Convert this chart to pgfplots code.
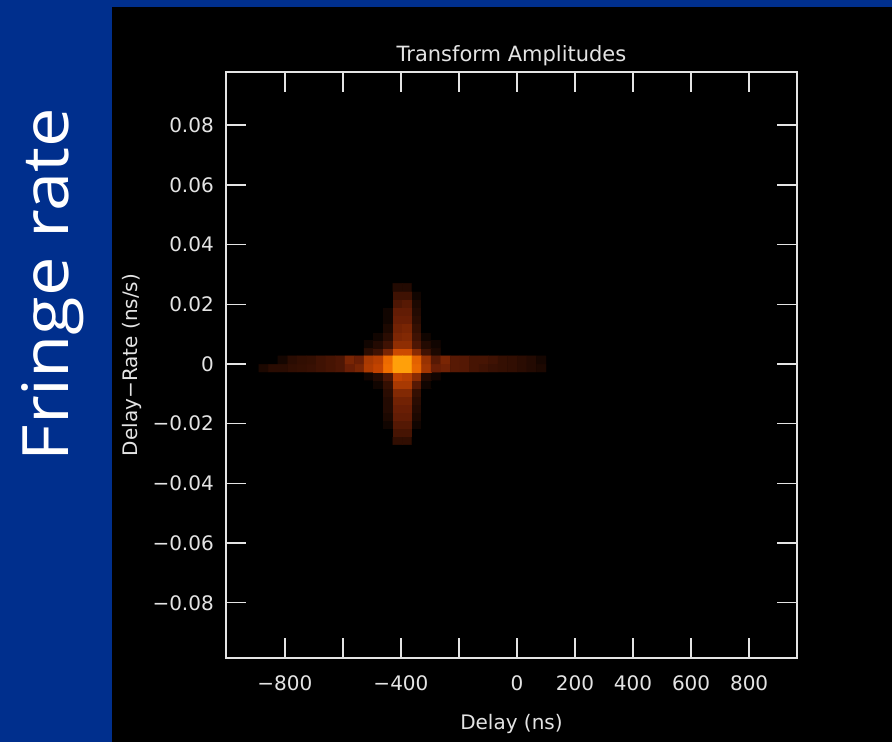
\documentclass[border=0pt]{standalone}
\usepackage{fontspec}
\setmainfont{DejaVu Sans}
\newfontfamily\slidefont{Open Sans}
\usepackage{graphicx}
\usepackage{pgfplots}
\pgfplotsset{compat=1.18}
\usepackage{pgfplotstable}
\definecolor{slideblue}{RGB}{0,47,141}
\definecolor{axgray}{RGB}{228,228,228}

% vertical band (delay columns around -400 ns), all rates
\pgfplotstableread{
x y c
-510.5 -0.02565 0
-477.5 -0.02565 0
-444.5 -0.02565 0
-411.5 -0.02565 0.14
-378.5 -0.02565 0.14
-345.5 -0.02565 0
-312.5 -0.02565 0
-279.5 -0.02565 0
-510.5 -0.02295 0
-477.5 -0.02295 0
-444.5 -0.02295 0
-411.5 -0.02295 0.20
-378.5 -0.02295 0.20
-345.5 -0.02295 0
-312.5 -0.02295 0
-279.5 -0.02295 0
-510.5 -0.02025 0
-477.5 -0.02025 0
-444.5 -0.02025 0.05
-411.5 -0.02025 0.24
-378.5 -0.02025 0.24
-345.5 -0.02025 0.05
-312.5 -0.02025 0
-279.5 -0.02025 0
-510.5 -0.01755 0
-477.5 -0.01755 0
-444.5 -0.01755 0.08
-411.5 -0.01755 0.28
-378.5 -0.01755 0.28
-345.5 -0.01755 0.08
-312.5 -0.01755 0
-279.5 -0.01755 0
-510.5 -0.01485 0
-477.5 -0.01485 0
-444.5 -0.01485 0.10
-411.5 -0.01485 0.30
-378.5 -0.01485 0.30
-345.5 -0.01485 0.10
-312.5 -0.01485 0
-279.5 -0.01485 0
-510.5 -0.01215 0
-477.5 -0.01215 0
-444.5 -0.01215 0.10
-411.5 -0.01215 0.33
-378.5 -0.01215 0.33
-345.5 -0.01215 0.12
-312.5 -0.01215 0
-279.5 -0.01215 0
-510.5 -0.00945 0
-477.5 -0.00945 0
-444.5 -0.00945 0.12
-411.5 -0.00945 0.38
-378.5 -0.00945 0.38
-345.5 -0.00945 0.15
-312.5 -0.00945 0
-279.5 -0.00945 0
-510.5 -0.00675 0
-477.5 -0.00675 0.05
-444.5 -0.00675 0.15
-411.5 -0.00675 0.50
-378.5 -0.00675 0.50
-345.5 -0.00675 0.25
-312.5 -0.00675 0.05
-279.5 -0.00675 0
-510.5 -0.00405 0.05
-477.5 -0.00405 0.10
-444.5 -0.00405 0.22
-411.5 -0.00405 0.58
-378.5 -0.00405 0.55
-345.5 -0.00405 0.40
-312.5 -0.00405 0.10
-279.5 -0.00405 0.05
-510.5 -0.00135 0.52
-477.5 -0.00135 0.58
-444.5 -0.00135 0.82
-411.5 -0.00135 1.00
-378.5 -0.00135 1.00
-345.5 -0.00135 0.78
-312.5 -0.00135 0.48
-279.5 -0.00135 0.30
-510.5 0.00135 0.50
-477.5 0.00135 0.55
-444.5 0.00135 0.80
-411.5 0.00135 1.00
-378.5 0.00135 1.00
-345.5 0.00135 0.75
-312.5 0.00135 0.45
-279.5 0.00135 0.25
-510.5 0.00405 0.12
-477.5 0.00405 0.18
-444.5 0.00405 0.35
-411.5 0.00405 0.62
-378.5 0.00405 0.62
-345.5 0.00405 0.40
-312.5 0.00405 0.18
-279.5 0.00405 0.08
-510.5 0.00675 0.05
-477.5 0.00675 0.10
-444.5 0.00675 0.18
-411.5 0.00675 0.42
-378.5 0.00675 0.42
-345.5 0.00675 0.22
-312.5 0.00675 0.10
-279.5 0.00675 0.05
-510.5 0.00945 0
-477.5 0.00945 0.05
-444.5 0.00945 0.12
-411.5 0.00945 0.36
-378.5 0.00945 0.38
-345.5 0.00945 0.18
-312.5 0.00945 0.05
-279.5 0.00945 0
-510.5 0.01215 0
-477.5 0.01215 0
-444.5 0.01215 0.08
-411.5 0.01215 0.33
-378.5 0.01215 0.35
-345.5 0.01215 0.15
-312.5 0.01215 0
-279.5 0.01215 0
-510.5 0.01485 0
-477.5 0.01485 0
-444.5 0.01485 0.05
-411.5 0.01485 0.30
-378.5 0.01485 0.30
-345.5 0.01485 0.12
-312.5 0.01485 0
-279.5 0.01485 0
-510.5 0.01755 0
-477.5 0.01755 0
-444.5 0.01755 0.05
-411.5 0.01755 0.28
-378.5 0.01755 0.28
-345.5 0.01755 0.10
-312.5 0.01755 0
-279.5 0.01755 0
-510.5 0.02025 0
-477.5 0.02025 0
-444.5 0.02025 0
-411.5 0.02025 0.22
-378.5 0.02025 0.25
-345.5 0.02025 0.08
-312.5 0.02025 0
-279.5 0.02025 0
-510.5 0.02295 0
-477.5 0.02295 0
-444.5 0.02295 0
-411.5 0.02295 0.18
-378.5 0.02295 0.18
-345.5 0.02295 0.05
-312.5 0.02295 0
-279.5 0.02295 0
-510.5 0.02565 0
-477.5 0.02565 0
-444.5 0.02565 0
-411.5 0.02565 0.10
-378.5 0.02565 0.10
-345.5 0.02565 0
-312.5 0.02565 0
-279.5 0.02565 0
}\vband

% horizontal band (rate near 0), all delays
\pgfplotstableread{
x y c
-873.5 -0.00135 0.08
-840.5 -0.00135 0.12
-807.5 -0.00135 0.12
-774.5 -0.00135 0.14
-741.5 -0.00135 0.15
-708.5 -0.00135 0.16
-675.5 -0.00135 0.18
-642.5 -0.00135 0.20
-609.5 -0.00135 0.22
-576.5 -0.00135 0.30
-543.5 -0.00135 0.35
-510.5 -0.00135 0.52
-477.5 -0.00135 0.58
-444.5 -0.00135 0.82
-411.5 -0.00135 1.00
-378.5 -0.00135 1.00
-345.5 -0.00135 0.78
-312.5 -0.00135 0.48
-279.5 -0.00135 0.30
-246.5 -0.00135 0.32
-213.5 -0.00135 0.25
-180.5 -0.00135 0.24
-147.5 -0.00135 0.20
-114.5 -0.00135 0.18
-81.5 -0.00135 0.16
-48.5 -0.00135 0.15
-15.5 -0.00135 0.14
17.5 -0.00135 0.12
50.5 -0.00135 0.10
83.5 -0.00135 0.08
-873.5 0.00135 0
-840.5 0.00135 0
-807.5 0.00135 0.06
-774.5 0.00135 0.12
-741.5 0.00135 0.14
-708.5 0.00135 0.15
-675.5 0.00135 0.18
-642.5 0.00135 0.20
-609.5 0.00135 0.22
-576.5 0.00135 0.35
-543.5 0.00135 0.30
-510.5 0.00135 0.50
-477.5 0.00135 0.55
-444.5 0.00135 0.80
-411.5 0.00135 1.00
-378.5 0.00135 1.00
-345.5 0.00135 0.75
-312.5 0.00135 0.45
-279.5 0.00135 0.25
-246.5 0.00135 0.35
-213.5 0.00135 0.25
-180.5 0.00135 0.24
-147.5 0.00135 0.20
-114.5 0.00135 0.20
-81.5 0.00135 0.18
-48.5 0.00135 0.15
-15.5 0.00135 0.14
17.5 0.00135 0.12
50.5 0.00135 0.10
83.5 0.00135 0.06
}\hband

\begin{document}
\begin{tikzpicture}[x=1pt,y=1pt]
\fill[slideblue] (0,0) rectangle (892,742);
\fill[black] (111.7,0) rectangle (892,735);
\node[rotate=90, anchor=base, text=white, inner sep=0pt,
      font=\slidefont\fontsize{64}{64}\selectfont] at (68,457.5)
      {\scalebox{1.1}[1]{Fringe rate}};
\begin{axis}[
  at={(226pt,83.7pt)}, anchor=south west,
  scale only axis, width=571pt, height=586.6pt,
  xmin=-1003, xmax=965, ymin=-0.0986, ymax=0.0979,
  scaled x ticks=false, scaled y ticks=false,
  xtick={-800,-600,-400,-200,0,200,400,600,800},
  xticklabels={−800,,−400,,0,200,400,600,800},
  ytick={-0.08,-0.06,-0.04,-0.02,0,0.02,0.04,0.06,0.08},
  yticklabels={−0.08,−0.06,−0.04,−0.02,0,0.02,0.04,0.06,0.08},
  tick align=inside, major tick length=20pt,
  tick style={axgray, line width=1.4pt},
  axis line style={axgray, line width=1.8pt},
  ticklabel style={text=axgray, font=\fontsize{20}{20}\selectfont, inner sep=0pt},
  xticklabel style={anchor=center, yshift=-24.7pt},
  yticklabel style={anchor=east, xshift=-12pt},
  title={Transform Amplitudes},
  title style={at={(axis description cs:0.5,1.0068)}, anchor=base, inner sep=0pt,
               text=axgray, font=\fontsize{21}{21}\selectfont},
  xlabel={Delay (ns)},
  xlabel style={at={(axis description cs:0.5,-0.1120)}, anchor=center, inner sep=0pt,
               text=axgray, font=\fontsize{20}{20}\selectfont},
  ylabel={Delay−Rate (ns/s)},
  ylabel style={at={(axis description cs:-0.1646,0.5)}, anchor=center, inner sep=0pt,
               text=axgray, font=\fontsize{20}{20}\selectfont},
  colormap={heat}{rgb255(0pt)=(0,0,0); rgb255(30pt)=(105,30,5); rgb255(60pt)=(200,70,0); rgb255(85pt)=(245,115,0); rgb255(100pt)=(255,160,10)},
  point meta min=0, point meta max=1,
]
\addplot[matrix plot*, mesh/cols=8, point meta=explicit] table[x=x, y=y, meta=c] {\vband};
\addplot[matrix plot*, mesh/cols=30, point meta=explicit] table[x=x, y=y, meta=c] {\hband};
\end{axis}
\pgfresetboundingbox
\path[use as bounding box] (0,0) rectangle (892,742);
\end{tikzpicture}
\end{document}
